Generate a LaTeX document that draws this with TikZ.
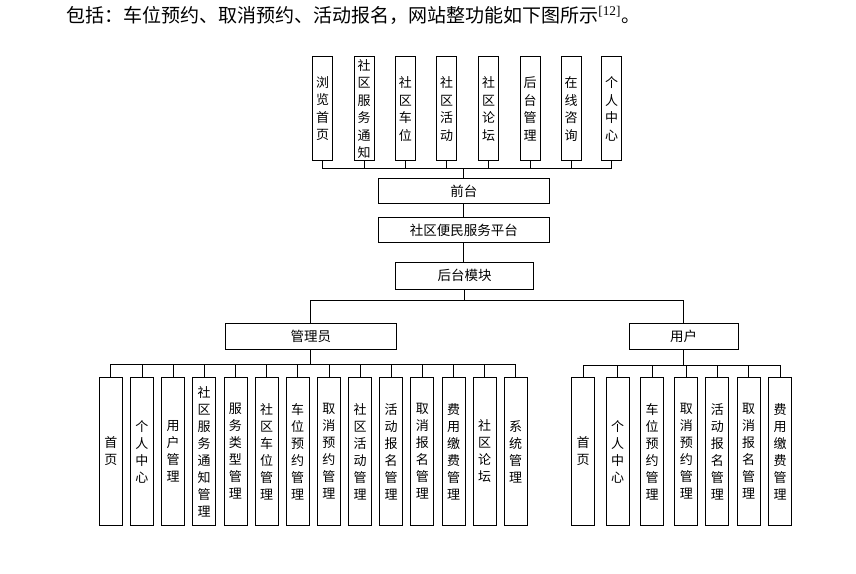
\documentclass[tikz,border=0pt]{standalone}
\usepackage{fontspec}
\setmainfont{Liberation Serif}
\newfontfamily\cjk{Noto Sans CJK SC}
\usepackage{tikz}
\usetikzlibrary{positioning}

\begin{document}
\begin{tikzpicture}[x=1pt, y=-1pt, line width=0.8pt,
    top/.style={draw, minimum width=20, minimum height=104, inner sep=0, align=center, font=\cjk\fontsize{13}{17.5}\selectfont},
    sub/.style={draw, minimum width=23, minimum height=148, inner sep=0, align=center, font=\cjk\fontsize{13}{17}\selectfont},
    wide/.style={draw, minimum height=25, inner sep=0, font=\cjk\fontsize{13.5}{15}\selectfont}]
      \useasboundingbox (0,0) rectangle (856,573);

      \node[anchor=base west, inner sep=0] (intro) at (66,22) {\fontsize{19}{22}\selectfont{\cjk 包括：车位预约、取消预约、活动报名，网站整功能如下图所示}\textsuperscript{[12]}{\cjk 。}};

      % front end
      \node[top] (t1) at (322.7,108.8) {浏\\览\\首\\页};
      \node[top] (t2) at (364.0,108.8) {社\\区\\服\\务\\通\\知};
      \node[top] (t3) at (405.3,108.8) {社\\区\\车\\位};
      \node[top] (t4) at (446.6,108.8) {社\\区\\活\\动};
      \node[top] (t5) at (488.5,108.8) {社\\区\\论\\坛};
      \node[top] (t6) at (530.0,108.8) {后\\台\\管\\理};
      \node[top] (t7) at (571.0,108.8) {在\\线\\咨\\询};
      \node[top] (t8) at (611.5,108.8) {个\\人\\中\\心};

      \node[wide, minimum width=171] (front) at (463.8,191.3) {前台};
      \node[wide, minimum width=171] (platform) at (463.8,230) {社区便民服务平台};
      \node[wide, minimum width=137.6, minimum height=26.7] (back) at (464.5,275.7) {后台模块};

      \node[wide, minimum width=171.7, minimum height=26] (admin) at (310.8,336.3) {管理员};
      \node[wide, minimum width=109.3, minimum height=26] (user) at (683.7,336.3) {用户};

      % admin modules
      \node[sub] (a1) at (110.8,451.5) {首\\页};
      \node[sub] (a2) at (141.9,451.5) {个\\人\\中\\心};
      \node[sub] (a3) at (173.1,451.5) {用\\户\\管\\理};
      \node[sub] (a4) at (204.2,451.5) {社\\区\\服\\务\\通\\知\\管\\理};
      \node[sub] (a5) at (235.4,451.5) {服\\务\\类\\型\\管\\理};
      \node[sub] (a6) at (266.6,451.5) {社\\区\\车\\位\\管\\理};
      \node[sub] (a7) at (297.7,451.5) {车\\位\\预\\约\\管\\理};
      \node[sub] (a8) at (328.9,451.5) {取\\消\\预\\约\\管\\理};
      \node[sub] (a9) at (360.0,451.5) {社\\区\\活\\动\\管\\理};
      \node[sub] (a10) at (391.2,451.5) {活\\动\\报\\名\\管\\理};
      \node[sub] (a11) at (422.3,451.5) {取\\消\\报\\名\\管\\理};
      \node[sub] (a12) at (453.5,451.5) {费\\用\\缴\\费\\管\\理};
      \node[sub] (a13) at (484.7,451.5) {社\\区\\论\\坛};
      \node[sub] (a14) at (515.7,451.5) {系\\统\\管\\理};

      % user modules
      \node[sub] (u1) at (583.0,451.5) {首\\页};
      \node[sub] (u2) at (617.7,451.5) {个\\人\\中\\心};
      \node[sub] (u3) at (652.0,451.5) {车\\位\\预\\约\\管\\理};
      \node[sub] (u4) at (686.3,451.5) {取\\消\\预\\约\\管\\理};
      \node[sub] (u5) at (717.3,451.5) {活\\动\\报\\名\\管\\理};
      \node[sub] (u6) at (748.7,451.5) {取\\消\\报\\名\\管\\理};
      \node[sub] (u7) at (780.0,451.5) {费\\用\\缴\\费\\管\\理};

      \draw (t1.south) -- ++(0,7.3) -| (front.north);
      \draw (t2.south) -- ++(0,7.3) -| (front.north);
      \draw (t3.south) -- ++(0,7.3) -| (front.north);
      \draw (t4.south) -- ++(0,7.3) -| (front.north);
      \draw (t5.south) -- ++(0,7.3) -| (front.north);
      \draw (t6.south) -- ++(0,7.3) -| (front.north);
      \draw (t7.south) -- ++(0,7.3) -| (front.north);
      \draw (t8.south) -- ++(0,7.3) -| (front.north);
      \draw (front) -- (platform);
      \draw (platform.south) -- (platform.south |- back.north);

      \draw (back.south) -- ++(0,11) -| (admin.north);
      \draw (back.south) -- ++(0,11) -| (user.north);

      \draw (admin.south) -- ++(0,15) -| (a1.north);
      \draw (admin.south) -- ++(0,15) -| (a2.north);
      \draw (admin.south) -- ++(0,15) -| (a3.north);
      \draw (admin.south) -- ++(0,15) -| (a4.north);
      \draw (admin.south) -- ++(0,15) -| (a5.north);
      \draw (admin.south) -- ++(0,15) -| (a6.north);
      \draw (admin.south) -- ++(0,15) -| (a7.north);
      \draw (admin.south) -- ++(0,15) -| (a8.north);
      \draw (admin.south) -- ++(0,15) -| (a9.north);
      \draw (admin.south) -- ++(0,15) -| (a10.north);
      \draw (admin.south) -- ++(0,15) -| (a11.north);
      \draw (admin.south) -- ++(0,15) -| (a12.north);
      \draw (admin.south) -- ++(0,15) -| (a13.north);
      \draw (admin.south) -- ++(0,15) -| (a14.north);

      \draw (user.south) -- ++(0,16) -| (u1.north);
      \draw (user.south) -- ++(0,16) -| (u2.north);
      \draw (user.south) -- ++(0,16) -| (u3.north);
      \draw (user.south) -- ++(0,16) -| (u4.north);
      \draw (user.south) -- ++(0,16) -| (u5.north);
      \draw (user.south) -- ++(0,16) -| (u6.north);
      \draw (user.south) -- ++(0,16) -| (u7.north);
    \end{tikzpicture}
\end{document}
